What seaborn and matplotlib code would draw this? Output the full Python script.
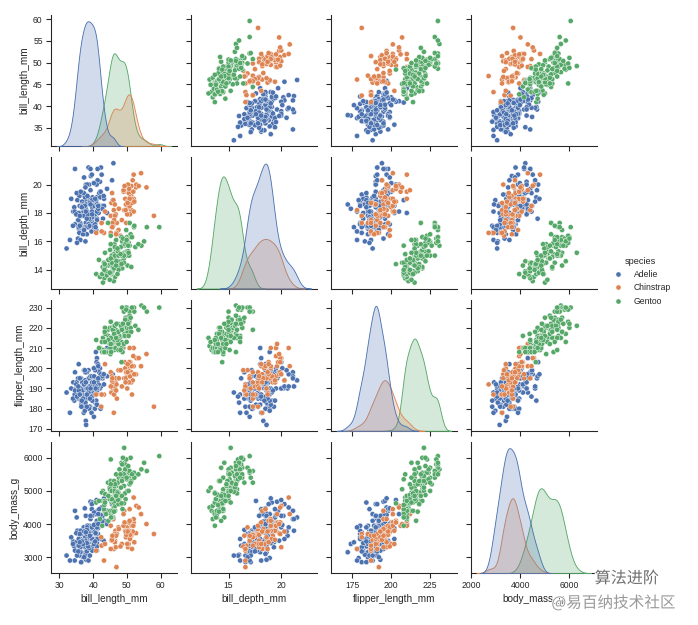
import pandas as pd
import matplotlib
matplotlib.use("Agg")
import matplotlib.pyplot as plt
import matplotlib.patheffects as pe
import seaborn as sns

species_names = ["Adelie", "Chinstrap", "Gentoo"]
variables = ["bill_length_mm", "bill_depth_mm", "flipper_length_mm", "body_mass_g"]

# tick marks as shown on the reference axes
ticks = {
    "bill_length_mm": [30, 40, 50, 60],
    "bill_depth_mm": [15, 20],
    "flipper_length_mm": [175, 200, 225],
    "body_mass_g": [2000, 4000, 6000],
}
yticks = {
    "bill_length_mm": [35, 40, 45, 50, 55, 60],
    "bill_depth_mm": [14, 16, 18, 20],
    "flipper_length_mm": [170, 180, 190, 200, 210, 220, 230],
    "body_mass_g": [3000, 4000, 5000, 6000],
}

# Adelie
adelie_bill_length = [
    39.1, 39.5, 40.3, 36.7, 39.3, 38.9, 39.2, 34.1, 42.0, 37.8,
    37.8, 41.1, 38.6, 34.6, 36.6, 38.7, 42.5, 34.4, 46.0, 37.8,
    37.7, 35.9, 38.2, 38.8, 35.3, 40.6, 40.5, 37.9, 40.5, 39.5,
    37.2, 39.5, 40.9, 36.4, 39.2, 38.8, 42.2, 37.6, 39.8, 36.5,
    40.8, 36.0, 44.1, 37.0, 39.6, 41.1, 37.5, 36.0, 42.3, 39.6,
    40.1, 35.0, 42.0, 34.5, 41.4, 39.0, 40.6, 36.5, 37.6, 35.7,
    41.3, 37.6, 41.1, 36.4, 41.6, 35.5, 41.1, 35.9, 41.8, 33.5,
    39.7, 39.6, 45.8, 35.5, 42.8, 40.9, 37.2, 36.2, 42.1, 34.6,
    42.9, 36.7, 35.1, 37.3, 41.3, 36.3, 36.9, 38.3, 38.9, 35.7,
    41.1, 34.0, 39.6, 36.2, 40.8, 38.1, 40.3, 33.1, 43.2, 35.0,
    41.0, 37.7, 37.8, 37.9, 39.7, 38.6, 38.2, 38.1, 43.2, 38.1,
    45.6, 39.7, 42.2, 39.6, 42.7, 38.6, 37.3, 35.7, 41.1, 36.2,
    37.7, 40.2, 41.4, 35.2, 40.6, 38.8, 41.5, 39.0, 44.1, 38.5,
    43.1, 36.8, 37.5, 38.1, 41.1, 35.6, 40.2, 37.0, 39.7, 40.2,
    40.6, 32.1, 40.7, 37.3, 39.0, 39.2, 36.6, 36.0, 37.8, 36.0,
    41.5,
]
adelie_bill_depth = [
    18.7, 17.4, 18.0, 19.3, 20.6, 17.8, 19.6, 18.1, 20.2, 17.1,
    17.3, 17.6, 21.2, 21.1, 17.8, 19.0, 20.7, 18.4, 21.5, 18.3,
    18.7, 19.2, 18.1, 17.2, 18.9, 18.6, 17.9, 18.6, 18.9, 16.7,
    18.1, 17.8, 18.9, 17.0, 21.1, 20.0, 18.5, 19.3, 19.1, 18.0,
    18.4, 18.5, 19.7, 16.9, 18.8, 19.0, 18.9, 17.9, 21.2, 17.7,
    18.9, 17.9, 19.5, 18.1, 18.6, 17.5, 18.8, 16.6, 19.1, 16.9,
    21.1, 17.0, 18.2, 17.1, 18.0, 16.2, 19.1, 16.6, 19.4, 19.0,
    18.4, 17.2, 18.9, 17.5, 18.5, 16.8, 19.4, 16.1, 19.1, 17.2,
    17.6, 18.8, 19.4, 17.8, 20.3, 19.5, 18.6, 19.2, 18.8, 18.0,
    18.1, 17.1, 18.1, 17.3, 18.9, 18.6, 18.5, 16.1, 18.5, 17.9,
    20.0, 16.0, 20.0, 18.6, 18.9, 17.2, 20.0, 17.0, 19.0, 16.5,
    20.3, 17.7, 19.5, 20.7, 18.3, 17.0, 20.5, 17.0, 18.6, 17.2,
    19.8, 17.0, 18.5, 15.9, 19.0, 17.6, 18.3, 17.1, 18.0, 17.9,
    19.2, 18.5, 18.5, 17.6, 17.5, 17.5, 20.1, 16.5, 17.9, 17.1,
    17.2, 15.5, 17.0, 16.8, 18.7, 18.6, 18.4, 17.8, 18.1, 17.1,
    18.5,
]
adelie_flipper = [
    181, 186, 195, 193, 190, 181, 195, 193, 190, 186,
    180, 182, 191, 198, 185, 195, 197, 184, 194, 174,
    180, 189, 185, 180, 187, 183, 187, 172, 180, 178,
    178, 188, 184, 195, 196, 190, 180, 181, 184, 182,
    195, 186, 196, 185, 190, 182, 179, 190, 191, 186,
    188, 190, 200, 187, 191, 186, 193, 181, 194, 185,
    195, 185, 192, 184, 192, 195, 188, 190, 198, 190,
    190, 196, 197, 190, 195, 191, 184, 187, 195, 189,
    196, 187, 193, 191, 194, 190, 189, 189, 190, 202,
    205, 185, 186, 187, 208, 190, 196, 178, 192, 192,
    203, 183, 190, 193, 184, 199, 190, 181, 197, 198,
    191, 193, 197, 191, 196, 188, 199, 189, 189, 187,
    198, 176, 202, 186, 199, 191, 195, 191, 210, 190,
    197, 193, 199, 187, 190, 191, 200, 185, 193, 193,
    187, 188, 190, 192, 185, 190, 184, 195, 193, 187,
    201,
]
adelie_mass = [
    3750, 3800, 3250, 3450, 3650, 3625, 4675, 3475, 4250, 3300,
    3700, 3200, 3800, 4400, 3700, 3450, 4500, 3325, 4200, 3400,
    3600, 3800, 3950, 3800, 3800, 3550, 3200, 3150, 3950, 3250,
    3900, 3300, 3900, 3325, 4150, 3950, 3550, 3300, 4650, 3150,
    3900, 3100, 4400, 3000, 4600, 3425, 2975, 3450, 4150, 3500,
    4300, 3450, 4050, 2900, 3700, 3550, 3800, 2850, 3750, 3150,
    4400, 3600, 4050, 2850, 3950, 3350, 4100, 3050, 4450, 3600,
    3900, 3550, 4150, 3700, 4250, 3700, 3900, 3550, 4000, 3200,
    4700, 3800, 4200, 3350, 3550, 3800, 3500, 3950, 3600, 3550,
    4300, 3400, 4450, 3300, 4300, 3700, 4350, 2900, 4100, 3725,
    4725, 3075, 4250, 2925, 3550, 3750, 3900, 3175, 4775, 3825,
    4600, 3200, 4275, 3900, 4075, 2900, 3775, 3350, 3325, 3150,
    3500, 3450, 3875, 3050, 4000, 3275, 4300, 3050, 4000, 3325,
    3500, 3500, 4475, 3425, 3900, 3175, 3975, 3400, 4250, 3400,
    3475, 3050, 3725, 3000, 3650, 4250, 3475, 3450, 3750, 3700,
    4000,
]

# Chinstrap
chinstrap_bill_length = [
    46.5, 50.0, 51.3, 45.4, 52.7, 45.2, 46.1, 51.3, 46.0, 51.3,
    46.6, 51.7, 47.0, 52.0, 45.9, 50.5, 50.3, 58.0, 46.4, 49.2,
    42.4, 48.5, 43.2, 50.6, 46.7, 52.0, 50.5, 49.5, 46.4, 52.8,
    40.9, 54.2, 42.5, 51.0, 49.7, 47.5, 47.6, 52.0, 46.9, 53.5,
    49.0, 46.2, 50.9, 45.5, 50.9, 50.8, 50.1, 49.0, 51.5, 49.8,
    48.1, 51.4, 45.7, 50.7, 42.5, 52.2, 45.2, 49.3, 50.2, 45.6,
    51.9, 46.8, 45.7, 55.8, 43.5, 49.6, 50.8, 50.2,
]
chinstrap_bill_depth = [
    17.9, 19.5, 19.2, 18.7, 19.8, 17.8, 18.2, 18.2, 18.9, 19.9,
    17.8, 20.3, 17.3, 18.1, 17.1, 19.6, 20.0, 17.8, 18.6, 18.2,
    17.3, 17.5, 16.6, 19.4, 17.9, 19.0, 18.4, 19.0, 17.8, 20.0,
    16.6, 20.8, 16.7, 18.8, 18.6, 16.8, 18.3, 20.7, 16.6, 19.9,
    19.5, 17.5, 19.1, 17.0, 17.9, 18.5, 17.9, 19.6, 18.7, 17.3,
    16.4, 19.0, 17.3, 19.7, 17.3, 18.8, 16.6, 19.9, 18.8, 19.4,
    19.5, 16.5, 17.0, 19.8, 18.1, 18.2, 19.0, 18.7,
]
chinstrap_flipper = [
    192, 196, 193, 188, 197, 198, 178, 197, 195, 198,
    193, 194, 185, 201, 190, 201, 197, 181, 190, 195,
    181, 191, 187, 193, 195, 197, 200, 200, 191, 205,
    187, 201, 187, 203, 195, 199, 195, 210, 192, 205,
    210, 187, 196, 196, 196, 201, 190, 212, 187, 198,
    199, 201, 193, 203, 187, 197, 191, 203, 202, 194,
    206, 189, 195, 207, 202, 193, 210, 198,
]
chinstrap_mass = [
    3500, 3900, 3650, 3525, 3725, 3950, 3250, 3750, 4150, 3700,
    3800, 3775, 3700, 4050, 3575, 4050, 3300, 3700, 3450, 4400,
    3600, 3400, 2900, 3800, 3300, 4150, 3400, 3800, 3700, 4550,
    3200, 4300, 3350, 4100, 3600, 3900, 3850, 4800, 2700, 4500,
    3950, 3650, 3550, 3500, 3675, 4450, 3400, 4300, 3250, 3675,
    3325, 3950, 3600, 4050, 3350, 3450, 3250, 4050, 3800, 3525,
    3950, 3650, 3650, 4000, 3400, 3775, 4100, 3775,
]

# Gentoo
gentoo_bill_length = [
    46.1, 50.0, 48.7, 50.0, 47.6, 46.5, 45.4, 46.7, 43.3, 46.8,
    40.9, 49.0, 45.5, 48.4, 45.8, 49.3, 42.0, 49.2, 46.2, 48.7,
    50.2, 45.1, 46.5, 46.3, 42.9, 46.1, 44.5, 47.8, 48.2, 50.0,
    47.3, 42.8, 45.1, 59.6, 49.1, 48.4, 42.6, 44.4, 44.0, 48.7,
    42.7, 49.6, 45.3, 49.6, 50.5, 43.6, 45.5, 50.5, 44.9, 45.2,
    46.6, 48.5, 45.1, 50.1, 46.5, 45.0, 43.8, 45.5, 43.2, 50.4,
    45.3, 46.2, 45.7, 54.3, 45.8, 49.8, 46.2, 49.5, 43.5, 50.7,
    47.7, 46.4, 48.2, 46.5, 46.4, 48.6, 47.5, 51.1, 45.2, 45.2,
    49.1, 52.5, 47.4, 50.0, 44.9, 50.8, 43.4, 51.3, 47.5, 52.1,
    47.5, 52.2, 45.5, 49.5, 44.5, 50.8, 49.4, 46.9, 48.4, 51.1,
    48.5, 55.9, 47.2, 49.1, 46.8, 41.7, 53.4, 43.3, 48.1, 50.5,
    49.8, 43.5, 51.5, 46.2, 55.1, 48.8, 47.2, 46.8, 50.4, 45.2,
    49.9,
]
gentoo_bill_depth = [
    13.2, 16.3, 14.1, 15.2, 14.5, 13.5, 14.6, 15.3, 13.4, 15.4,
    13.7, 16.1, 13.7, 14.6, 14.6, 15.7, 13.5, 15.2, 14.5, 15.1,
    14.3, 14.5, 14.5, 15.8, 13.1, 15.1, 14.3, 15.0, 14.3, 15.3,
    15.3, 14.2, 14.5, 17.0, 14.8, 16.3, 13.7, 17.3, 13.6, 15.7,
    13.7, 16.0, 13.7, 15.0, 15.9, 13.9, 13.9, 15.9, 13.3, 15.8,
    14.2, 14.1, 14.4, 15.0, 14.4, 15.4, 13.9, 15.0, 14.5, 15.3,
    13.8, 14.9, 13.9, 15.7, 14.2, 16.8, 14.4, 16.2, 14.2, 15.0,
    15.0, 15.6, 15.6, 14.8, 15.0, 16.0, 14.2, 16.3, 13.8, 16.4,
    14.5, 15.6, 14.6, 15.9, 13.8, 17.3, 14.4, 14.2, 14.0, 17.0,
    15.0, 17.1, 14.5, 16.1, 14.7, 15.7, 15.8, 14.6, 14.4, 16.5,
    15.0, 17.0, 15.5, 15.0, 16.1, 14.7, 15.8, 14.0, 15.1, 15.2,
    15.9, 15.2, 16.3, 14.1, 16.0, 16.2, 13.7, 14.3, 15.7, 14.8,
    16.1,
]
gentoo_flipper = [
    211, 230, 210, 218, 215, 210, 211, 219, 209, 215,
    214, 216, 214, 213, 210, 217, 210, 221, 209, 222,
    218, 215, 213, 215, 215, 215, 216, 215, 210, 220,
    222, 209, 207, 230, 220, 220, 213, 219, 208, 208,
    208, 225, 210, 216, 222, 217, 210, 225, 213, 215,
    210, 220, 210, 225, 217, 220, 208, 220, 208, 224,
    208, 221, 214, 231, 219, 230, 214, 229, 220, 223,
    216, 221, 221, 217, 216, 230, 209, 220, 215, 223,
    212, 221, 212, 224, 212, 228, 218, 218, 212, 230,
    218, 228, 212, 224, 214, 226, 216, 222, 203, 225,
    219, 228, 215, 228, 215, 210, 219, 208, 209, 216,
    229, 213, 230, 217, 230, 222, 214, 215, 222, 212,
    213,
]
gentoo_mass = [
    4500, 5700, 4450, 5700, 5400, 4550, 4800, 5200, 4400, 5150,
    4650, 5550, 4650, 5850, 4200, 5850, 4150, 6300, 4800, 5350,
    5700, 5000, 4400, 5050, 5000, 5100, 4100, 5650, 4600, 5550,
    5250, 4700, 5050, 6050, 5150, 5400, 4950, 5250, 4350, 5350,
    3950, 5700, 4300, 4750, 5550, 4900, 4200, 5400, 5100, 5300,
    4850, 5300, 4400, 5000, 4900, 5050, 4300, 5000, 4450, 5550,
    4200, 5300, 4400, 5650, 4700, 5700, 4650, 5800, 4700, 5550,
    4750, 5000, 5100, 5200, 4700, 5800, 4600, 6000, 4750, 5950,
    4625, 5450, 4725, 5350, 4750, 5600, 4600, 5300, 4875, 5550,
    4950, 5400, 4750, 5650, 4850, 5200, 4925, 4875, 4625, 5250,
    4850, 5600, 4975, 5500, 5500, 4700, 5500, 4575, 5500, 5000,
    5950, 4650, 5500, 4375, 5850, 6000, 4925, 4850, 5750, 5200,
    5400,
]

frames = []
for name, cols in zip(species_names, [
    (adelie_bill_length, adelie_bill_depth, adelie_flipper, adelie_mass),
    (chinstrap_bill_length, chinstrap_bill_depth, chinstrap_flipper, chinstrap_mass),
    (gentoo_bill_length, gentoo_bill_depth, gentoo_flipper, gentoo_mass),
]):
    d = pd.DataFrame(dict(zip(variables, cols)))
    d["species"] = name
    frames.append(d)
penguins = pd.concat(frames, ignore_index=True)

sns.set_theme(style="ticks")
plt.rcParams["font.family"] = ["Liberation Sans", "DejaVu Sans"]
plt.rcParams.update({
    "axes.labelsize": 11.5,
    "xtick.labelsize": 10,
    "ytick.labelsize": 10,
    "legend.fontsize": 10,
    "legend.title_fontsize": 10.5,
})

g = sns.pairplot(penguins, hue="species", height=2.5)

for j, var in enumerate(variables):
    g.axes[-1, j].set_xticks(ticks[var])
for i, var in enumerate(variables):
    g.axes[i, 0].set_yticks(yticks[var])

dpi = 62.5
g.figure.set_size_inches(698 / dpi, 625 / dpi)
sns.move_legend(g, "center left", bbox_to_anchor=(0.862, 0.55), frameon=False)
g.figure.subplots_adjust(left=0.073, right=0.855, top=0.976, bottom=0.083,
                         wspace=0.11, hspace=0.084)

# watermark
cjk = ["Noto Sans CJK SC", "DejaVu Sans"]
g.figure.text(0.852, 0.067, "算法进阶", family=cjk, fontsize=18.5, color="#707070",
              va="baseline", path_effects=[pe.withStroke(linewidth=2, foreground="white")])
g.figure.text(0.79, 0.035, "@易百纳技术社区", family=cjk, fontsize=18, color="#9a9a9a",
              va="center", path_effects=[pe.withStroke(linewidth=2, foreground="white")])

g.figure.savefig("out.png", dpi=dpi)
